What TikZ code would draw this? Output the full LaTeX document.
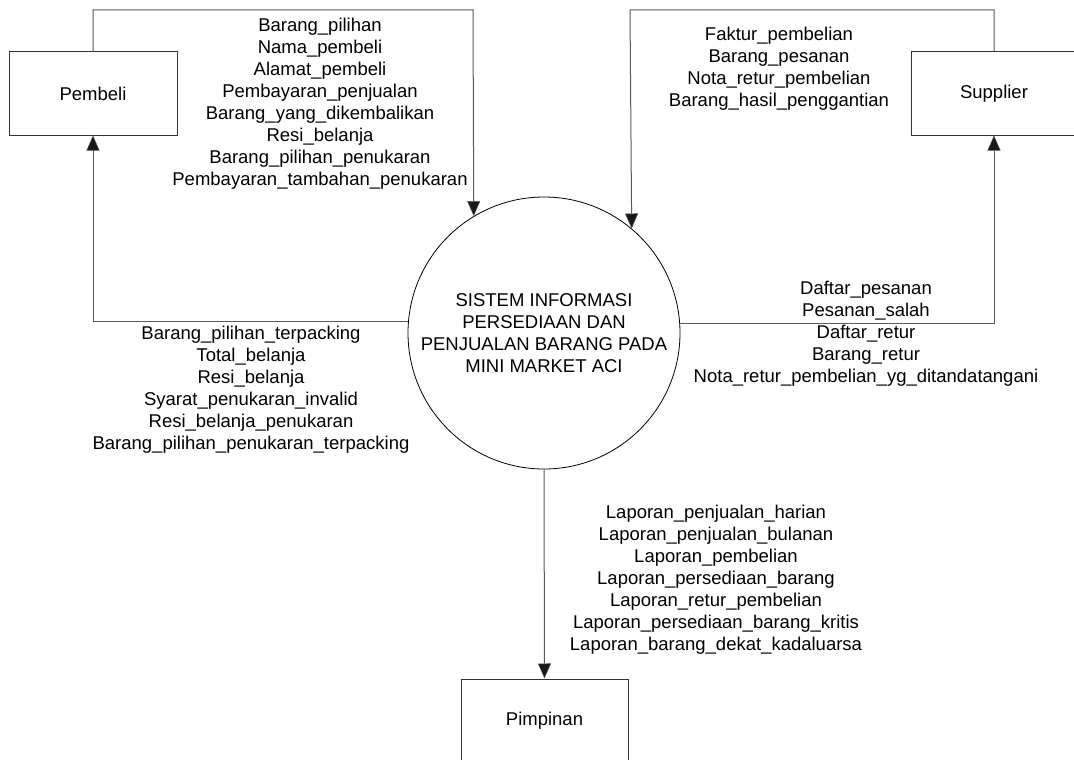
\documentclass[tikz,border=0pt]{standalone}
\usepackage{fontspec}
\setmainfont{Liberation Sans}
\usetikzlibrary{arrows.meta}
\begin{document}
\begin{tikzpicture}[x=1pt,y=-1pt,
  every node/.style={font=\fontsize{18.5}{22}\selectfont},
  ent/.style={draw=black!80, line width=1pt, minimum height=83pt, inner sep=0pt},
  proc/.style={draw=black, line width=0.8pt, circle, minimum size=272pt, inner sep=0pt, align=center},
  flow/.style={draw=black!65, line width=1pt, -{Triangle[length=15pt,width=13pt,fill=black!90,line width=0.5pt]}},
  lbl/.style={align=center, inner sep=0pt}]
\useasboundingbox (0,0) rectangle (1074,760);
\fill[white] (0,0) rectangle (1074,760);

\node[ent, minimum width=168pt] (pembeli) at (93,93.5) {Pembeli};
\node[ent, minimum width=166pt] (supplier) at (994,93.5) {Supplier};
\node[ent, minimum width=167pt] (pimpinan) at (544.5,720.5) {Pimpinan};
\node[proc] (sys) at (544,333) {SISTEM INFORMASI\\PERSEDIAAN DAN\\PENJUALAN BARANG PADA\\MINI MARKET ACI};

\coordinate (tl) at (473,10);
\coordinate (tr) at (630,10);

\draw[flow] (pembeli.north) |- (tl) -- (sys.121.5);
\draw[flow] (supplier.north) |- (tr) -- (sys.50.8);
\draw[flow] (sys.175.4) -| (pembeli.south);
\draw[flow] (sys.4.6) -| (supplier.south);
\draw[flow] (sys.south) -- (pimpinan.north);

\node[lbl] (l1) at (320,104) {Barang\_pilihan\\Nama\_pembeli\\Alamat\_pembeli\\Pembayaran\_penjualan\\Barang\_yang\_dikembalikan\\Resi\_belanja\\Barang\_pilihan\_penukaran\\Pembayaran\_tambahan\_penukaran};
\node[lbl] (l2) at (779,68.5) {Faktur\_pembelian\\Barang\_pesanan\\Nota\_retur\_pembelian\\Barang\_hasil\_penggantian};
\node[lbl] (l3) at (251,390) {Barang\_pilihan\_terpacking\\Total\_belanja\\Resi\_belanja\\Syarat\_penukaran\_invalid\\Resi\_belanja\_penukaran\\Barang\_pilihan\_penukaran\_terpacking};
\node[lbl] (l4) at (866,334) {Daftar\_pesanan\\Pesanan\_salah\\Daftar\_retur\\Barang\_retur\\Nota\_retur\_pembelian\_yg\_ditandatangani};
\node[lbl] (l5) at (716,580) {Laporan\_penjualan\_harian\\Laporan\_penjualan\_bulanan\\Laporan\_pembelian\\Laporan\_persediaan\_barang\\Laporan\_retur\_pembelian\\Laporan\_persediaan\_barang\_kritis\\Laporan\_barang\_dekat\_kadaluarsa};
\end{tikzpicture}
\end{document}
